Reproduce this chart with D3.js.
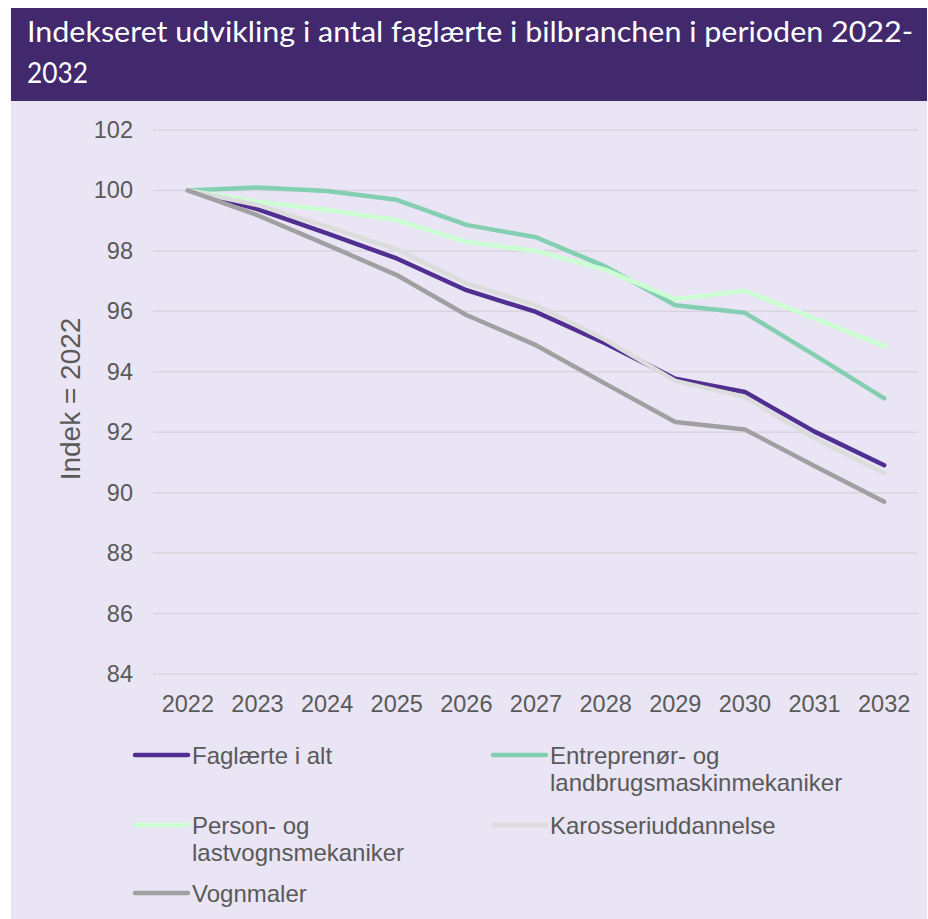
<!DOCTYPE html>
<html>
<head>
<meta charset="utf-8">
<script src="https://d3js.org/d3.v7.min.js"></script>
<style>
  html, body { margin: 0; padding: 0; background: #ffffff; }
  svg { display: block; }
</style>
</head>
<body>
<div id="chart"></div>
<script>
'use strict';

// ─── DATA ────────────────────────────────────────────────────

var years = ['2022', '2023', '2024', '2025', '2026', '2027', '2028', '2029', '2030', '2031', '2032'];
var yTicks = [84, 86, 88, 90, 92, 94, 96, 98, 100, 102];

var faglaerteIAlt = [100, 99.38, 98.58, 97.75, 96.7, 95.98, 94.94, 93.77, 93.33, 92.02, 90.91];
var entreprenoer  = [100, 100.1, 99.98, 99.69, 98.86, 98.45, 97.48, 96.2, 95.95, 94.55, 93.12];
var personLastvogn = [100, 99.63, 99.35, 99.02, 98.3, 98.0, 97.37, 96.4, 96.68, 95.77, 94.85];
var karosseri     = [100, 99.52, 98.8, 98.05, 96.93, 96.2, 95.05, 93.7, 93.17, 91.8, 90.64];
var vognmaler     = [100, 99.18, 98.2, 97.2, 95.88, 94.88, 93.6, 92.34, 92.09, 90.88, 89.7];

var seriesNames = [
    ['Faglærte i alt'],
    ['Entreprenør- og', 'landbrugsmaskinmekaniker'],
    ['Person- og', 'lastvognsmekaniker'],
    ['Karosseriuddannelse'],
    ['Vognmaler']
];
var seriesColors = ['#502F91', '#84CFB2', '#CCFFD2', '#DCDCDC', '#A0A0A2'];
var seriesValues = [faglaerteIAlt, entreprenoer, personLastvogn, karosseri, vognmaler];

var FONT = '"Liberation Sans", Arial, sans-serif';

// ─── LAYOUT ──────────────────────────────────────────────────

var W = 928, H = 919;
var svg = d3.select('#chart').append('svg')
    .attr('width', W)
    .attr('height', H);

// panel + title bar
svg.append('rect')
    .attr('x', 11).attr('y', 8)
    .attr('width', 916).attr('height', H - 8)
    .attr('fill', '#E9E5F4');
svg.append('rect')
    .attr('x', 11).attr('y', 8)
    .attr('width', 916).attr('height', 93)
    .attr('fill', '#42296E');

var titleLines = ['Indekseret udvikling i antal faglærte i bilbranchen i perioden 2022-', '2032'];
svg.append('text')
    .attr('x', 27).attr('y', 42)
    .attr('fill', '#ffffff')
    .attr('font-family', 'Lato, "Open Sans", sans-serif')
    .attr('font-size', 28)
    .attr('textLength', 886)
    .attr('lengthAdjust', 'spacingAndGlyphs')
    .text(titleLines[0]);
svg.append('text')
    .attr('x', 27).attr('y', 83)
    .attr('fill', '#ffffff')
    .attr('font-family', 'Lato, "Open Sans", sans-serif')
    .attr('font-size', 28)
    .attr('textLength', 61)
    .attr('lengthAdjust', 'spacingAndGlyphs')
    .text(titleLines[1]);

// ─── SCALES ──────────────────────────────────────────────────

var x = d3.scaleBand().domain(years).range([153, 919]);
var y = d3.scaleLinear().domain([84, 102]).range([674, 130]);
var cx = function(d) { return x(d) + x.bandwidth() / 2; };

// gridlines
var grid = svg.append('g').attr('class', 'grid');
grid.selectAll('line')
    .data(yTicks)
    .enter()
    .append('line')
    .attr('x1', 153).attr('x2', 918)
    .attr('y1', function(d) { return y(d); })
    .attr('y2', function(d) { return y(d); })
    .attr('stroke', '#D9D4DE')
    .attr('stroke-width', 1.5);

// y axis
var yAxis = svg.append('g')
    .attr('transform', 'translate(153,0)')
    .call(d3.axisLeft(y).tickValues(yTicks).tickSize(0).tickPadding(20));
yAxis.select('.domain').remove();
yAxis.selectAll('text')
    .attr('font-family', FONT)
    .attr('font-size', 23.5)
    .attr('fill', '#595959');

// x axis
var xAxis = svg.append('g')
    .attr('transform', 'translate(0,674)')
    .call(d3.axisBottom(x).tickSize(0).tickPadding(21));
xAxis.select('.domain').remove();
xAxis.selectAll('text')
    .attr('font-family', FONT)
    .attr('font-size', 23.5)
    .attr('fill', '#595959');

// y title
svg.append('text')
    .attr('transform', 'translate(80,399) rotate(-90)')
    .attr('text-anchor', 'middle')
    .attr('font-family', FONT)
    .attr('font-size', 28)
    .attr('fill', '#595959')
    .text('Indek = 2022');

// ─── LINES ───────────────────────────────────────────────────

var line = d3.line()
    .x(function(d, i) { return cx(years[i]); })
    .y(function(d) { return y(d); });

svg.append('g').attr('class', 'lines')
    .selectAll('path')
    .data(seriesValues)
    .enter()
    .append('path')
    .attr('d', line)
    .attr('fill', 'none')
    .attr('stroke', function(d, i) { return seriesColors[i]; })
    .attr('stroke-width', 4.5)
    .attr('stroke-linejoin', 'round')
    .attr('stroke-linecap', 'round');

// ─── LEGEND ──────────────────────────────────────────────────

var legendPos = [[135, 755], [493, 755], [135, 825], [493, 825], [135, 893]];
var legend = svg.append('g').attr('class', 'legend');
seriesNames.forEach(function(names, i) {
    var p = legendPos[i];
    legend.append('line')
        .attr('x1', p[0]).attr('x2', p[0] + 53)
        .attr('y1', p[1]).attr('y2', p[1])
        .attr('stroke', seriesColors[i])
        .attr('stroke-width', 4.5)
        .attr('stroke-linecap', 'round');
    names.forEach(function(t, j) {
        legend.append('text')
            .attr('x', p[0] + 57)
            .attr('y', p[1] + 8.5 + j * 27)
            .attr('font-family', FONT)
            .attr('font-size', 24)
            .attr('fill', '#595959')
            .text(t);
    });
});
</script>
</body>
</html>
